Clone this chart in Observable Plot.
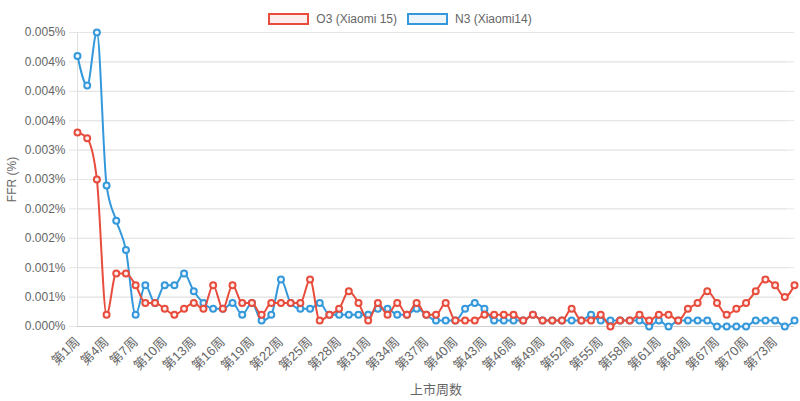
<!DOCTYPE html>
<html>
<head>
<meta charset="utf-8">
<script src="https://cdn.jsdelivr.net/npm/d3@7"></script>
<script src="https://cdn.jsdelivr.net/npm/@observablehq/plot@0.6"></script>
<style>
  html, body { margin: 0; padding: 0; background: #fff; }
  body { width: 800px; height: 401px; overflow: hidden; font-family: "Liberation Sans", Arial, "Noto Sans CJK SC", sans-serif; }
  #legend { height: 26px; box-sizing: border-box; padding-top: 11px; display: flex; justify-content: center; align-items: center; font-size: 12px; color: #666; }
  .item { display: flex; align-items: center; margin: 0 5px; height: 12px; }
  .box { width: 41px; height: 12px; box-sizing: border-box; border: 2px solid; margin-right: 7px; }
  .lab { line-height: 12px; }
</style>
</head>
<body>
<div id="legend"></div>
<div id="chart"></div>
<script>
const weeks = Array.from({length: 75}, (_, i) => `第${i + 1}周`);
const tickWeeks = weeks.filter((_, i) => i % 3 === 0);
const yTicks = [0, 0.0005, 0.001, 0.0015, 0.002, 0.0025, 0.003, 0.0035, 0.004, 0.0045, 0.005];

const seriesNames = ["O3 (Xiaomi 15)", "N3 (Xiaomi14)"];
const seriesColors = ["#e74c3c", "#3498db"];
const seriesFills = ["#fdedec", "#ebf5fb"];

const o3 = [
  0.0033, 0.0032, 0.0025, 0.0002, 0.0009, 0.0009, 0.0007, 0.0004, 0.0004, 0.0003,
  0.0002, 0.0003, 0.0004, 0.0003, 0.0007, 0.0003, 0.0007, 0.0004, 0.0004, 0.0002,
  0.0004, 0.0004, 0.0004, 0.0004, 0.0008, 0.0001, 0.0002, 0.0003, 0.0006, 0.0004,
  0.0001, 0.0004, 0.0002, 0.0004, 0.0002, 0.0004, 0.0002, 0.0002, 0.0004, 0.0001,
  0.0001, 0.0001, 0.0002, 0.0002, 0.0002, 0.0002, 0.0001, 0.0002, 0.0001, 0.0001,
  0.0001, 0.0003, 0.0001, 0.0001, 0.0002, 0.0000, 0.0001, 0.0001, 0.0002, 0.0001,
  0.0002, 0.0002, 0.0001, 0.0003, 0.0004, 0.0006, 0.0004, 0.0002, 0.0003, 0.0004,
  0.0006, 0.0008, 0.0007, 0.0005, 0.0007
];
const n3 = [
  0.0046, 0.0041, 0.0050, 0.0024, 0.0018, 0.0013, 0.0002, 0.0007, 0.0004, 0.0007,
  0.0007, 0.0009, 0.0006, 0.0004, 0.0003, 0.0003, 0.0004, 0.0002, 0.0004, 0.0001,
  0.0002, 0.0008, 0.0004, 0.0003, 0.0003, 0.0004, 0.0002, 0.0002, 0.0002, 0.0002,
  0.0002, 0.0003, 0.0003, 0.0002, 0.0002, 0.0003, 0.0002, 0.0001, 0.0001, 0.0001,
  0.0003, 0.0004, 0.0003, 0.0001, 0.0001, 0.0001, 0.0001, 0.0002, 0.0001, 0.0001,
  0.0001, 0.0001, 0.0001, 0.0002, 0.0001, 0.0001, 0.0001, 0.0001, 0.0001, 0.0000,
  0.0001, 0.0000, 0.0001, 0.0001, 0.0001, 0.0001, 0.0000, 0.0000, 0.0000, 0.0000,
  0.0001, 0.0001, 0.0001, 0.0000, 0.0001
];

// legend
const legend = document.getElementById("legend");
seriesNames.forEach((name, i) => {
  const item = document.createElement("div");
  item.className = "item";
  item.innerHTML = `<div class="box" style="border-color:${seriesColors[i]};background:${seriesFills[i]}"></div><span class="lab">${name}</span>`;
  legend.appendChild(item);
});

const o3Data = weeks.map((w, i) => ({week: w, v: o3[i]}));
const n3Data = weeks.map((w, i) => ({week: w, v: n3[i]}));

const chart = Plot.plot({
  width: 800,
  height: 375,
  marginLeft: 77,
  marginRight: 6,
  marginTop: 6,
  marginBottom: 75,
  style: {fontFamily: '"Liberation Sans", Arial, "Noto Sans CJK SC", sans-serif', fontSize: "12px", color: "#666", background: "#fff"},
  x: {type: "point", domain: weeks, padding: 0},
  y: {domain: [0, 0.005]},
  marks: [
    Plot.gridY(yTicks, {stroke: "#e5e5e5", strokeOpacity: 1}),
    Plot.tickY(yTicks, {y: d => d, dx: -8, stroke: "#e5e5e5", strokeOpacity: 1}),
    Plot.ruleX([weeks[0]], {stroke: "#e0e0e0"}),
    Plot.ruleY([0], {stroke: "#cfcfcf"}),
    Plot.axisY({ticks: yTicks, tickFormat: d => d.toFixed(3) + "%", tickSize: 0, tickPadding: 12,
      label: "FFR (%)", labelAnchor: "center", labelArrow: "none", labelOffset: 70, fontSize: 12}),
    Plot.axisX({ticks: tickWeeks, tickRotate: -45, tickSize: 0, tickPadding: 13,
      label: "上市周数", labelAnchor: "center", labelArrow: "none", labelOffset: 67, fontSize: 13}),
    Plot.line(n3Data, {x: "week", y: "v", stroke: seriesColors[1], strokeWidth: 2, curve: "monotone-x"}),
    Plot.dot(n3Data, {x: "week", y: "v", r: 3, stroke: seriesColors[1], strokeWidth: 2, fill: seriesFills[1]}),
    Plot.line(o3Data, {x: "week", y: "v", stroke: seriesColors[0], strokeWidth: 2, curve: "monotone-x"}),
    Plot.dot(o3Data, {x: "week", y: "v", r: 3, stroke: seriesColors[0], strokeWidth: 2, fill: seriesFills[0]})
  ]
});
document.getElementById("chart").appendChild(chart);
</script>
</body>
</html>
